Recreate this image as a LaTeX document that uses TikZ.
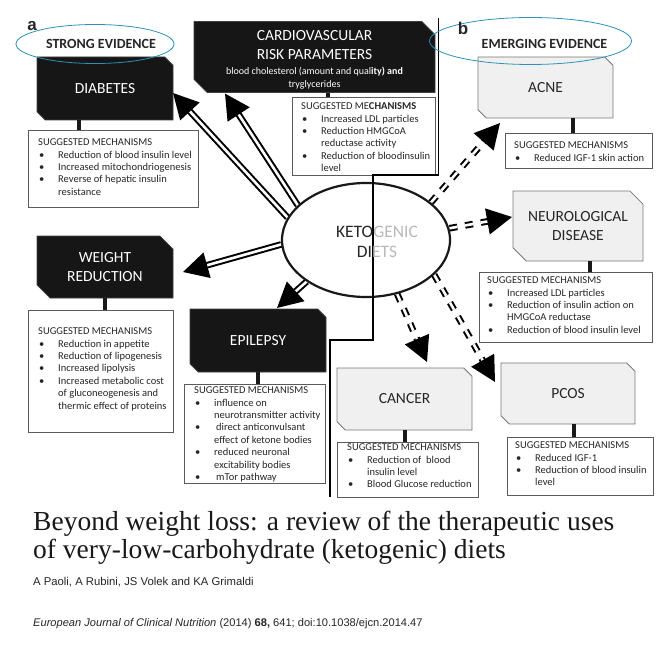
\documentclass[tikz,border=0pt]{standalone}
\usepackage{fontspec}
\setmainfont{Carlito}
\newfontfamily\serifttl{Liberation Serif}
\newfontfamily\arialf{Liberation Sans}
\usetikzlibrary{shapes.misc,shapes.geometric,arrows.meta,calc}
\pgfdeclarelayer{bglayer}
\pgfdeclarelayer{arrowlayer}
\pgfsetlayers{bglayer,arrowlayer,main}
\definecolor{evblue}{RGB}{45,145,185}
\definecolor{darkbox}{RGB}{22,22,22}
\definecolor{lightbox}{RGB}{240,240,240}
\definecolor{lightedge}{RGB}{120,120,120}
\definecolor{mechedge}{RGB}{90,90,90}
\definecolor{ketogray}{RGB}{185,185,185}
\newcommand\bl{\makebox[20pt][l]{\hspace{1pt}\textbullet}}
\newcommand\ct{\hspace*{20pt}}
\newcommand\mhead{SUGGESTED MECHANISMS}
\begin{document}
\begin{tikzpicture}[x=1pt,y=-1pt,
  hfont/.style={font=\fontsize{15.5}{18.5}\selectfont},
  strongbox/.style={chamfered rectangle, chamfered rectangle corners={north east,south west}, chamfered rectangle xsep=10pt, fill=darkbox, draw=black!75, line width=0.8pt, text=white, hfont, align=center, inner sep=0pt, outer sep=0pt},
  emergbox/.style={strongbox, fill=lightbox, draw=lightedge, text=black!85},
  mechbox/.style={rectangle, draw=mechedge, fill=white, line width=0.8pt, inner sep=0pt, outer sep=0pt, anchor=north west},
  mechtext/.style={inner sep=0pt, anchor=north west, align=left, font=\fontsize{10.5}{12.4}\selectfont, text=black!85},
  stem/.style={draw=black!90, line width=4pt},
  strongarrow/.style={draw=black, line width=2pt, double=white, double distance=2.6pt, -{Triangle[length=25pt,width=26pt]}},
  emergarrow/.style={strongarrow, dash pattern=on 8pt off 8pt},
  evellipse/.style={ellipse, draw=evblue, line width=0.8pt, inner sep=0pt},
  evtext/.style={font=\bfseries\fontsize{14}{16}\selectfont, text=black!85, inner sep=0pt},
  panel/.style={font=\arialf\bfseries\fontsize{17}{17}\selectfont, inner sep=0pt, text=black!85},
  divider/.style={draw=black, line width=1.5pt}
]
\begin{pgfonlayer}{bglayer}
\fill[white] (0,0) rectangle (671,652);
\end{pgfonlayer}
\useasboundingbox (0,0) rectangle (671,652);

% strong evidence boxes
\node[strongbox, minimum width=136pt, minimum height=63pt] (diab) at (105,88.5) {DIABETES};
\node[strongbox, minimum width=241pt, minimum height=70pt] (cardio) at (314.5,57)
  {\rule{0pt}{16pt}CARDIOVASCULAR\\RISK PARAMETERS\\[-3.5pt]{\fontsize{10}{12}\selectfont blood cholesterol (amount and qual\textbf{ity) and}}\\[-5pt]{\fontsize{10}{12}\selectfont tryglycerides}};
\node[strongbox, minimum width=136pt, minimum height=62pt] (weight) at (105,267) {WEIGHT\\REDUCTION};
\node[strongbox, minimum width=136pt, minimum height=63pt] (epi) at (258,340.5) {EPILEPSY};

% emerging evidence boxes
\node[emergbox, minimum width=135pt, minimum height=61pt] (acne) at (545.5,87.5) {ACNE};
\node[emergbox, minimum width=130pt, minimum height=70pt] (neuro) at (578,226) {NEUROLOGICAL\\DISEASE};
\node[emergbox, minimum width=135pt, minimum height=62pt] (cancer) at (404.5,399) {CANCER};
\node[emergbox, minimum width=134pt, minimum height=61pt] (pcos) at (568,393.5) {PCOS};

% mechanism boxes
\node[mechbox, minimum width=170pt, minimum height=77pt] (diabm) at (28,130) {};
\node[mechtext] (diabt) at ($(diabm.north west)+(10,8.6)$) {\mhead\\
  \bl Reduction of blood insulin level\\
  \bl Increased mitochondriogenesis\\
  \bl Reverse of hepatic insulin\\
  \ct resistance};
\node[mechbox, minimum width=143pt, minimum height=78pt] (cardiom) at (292,97) {};
\node[mechtext] (cardiot) at ($(cardiom.north west)+(9,5.6)$) {SUGGESTED ME\textbf{CHANISMS}\\
  \bl Increased LDL particles\\
  \bl Reduction HMGCoA\\
  \ct reductase activity\\
  \bl Reduction of bloodinsulin\\
  \ct level};
\node[mechbox, minimum width=145pt, minimum height=122pt] (weightm) at (28,310) {};
\node[mechtext] (weightt) at ($(weightm.north west)+(10,17.6)$) {\mhead\\
  \bl Reduction in appetite\\
  \bl Reduction of lipogenesis\\
  \bl Increased lipolysis\\
  \bl Increased metabolic cost\\
  \ct of gluconeogenesis and\\
  \ct thermic effect of proteins};
\node[mechbox, minimum width=141pt, minimum height=99pt] (epim) at (184,384) {};
\node[mechtext] (epit) at ($(epim.north west)+(10,2.6)$) {\mhead\\
  \bl influence on\\
  \ct neurotransmitter activity\\
  \bl\hspace{2pt}direct anticonvulsant\\
  \ct effect of ketone bodies\\
  \bl reduced neuronal\\
  \ct excitability bodies\\
  \bl\hspace{2pt}mTor pathway};
\node[mechbox, minimum width=147pt, minimum height=35pt] (acnem) at (505,133) {};
\node[mechtext] (acnet) at ($(acnem.north west)+(9,8.6)$) {\mhead\\
  \bl Reduced IGF-1 skin action};
\node[mechbox, minimum width=173pt, minimum height=70pt] (neurom) at (479,272) {};
\node[mechtext] (neurot) at ($(neurom.north west)+(8,4.6)$) {\mhead\\
  \bl Increased LDL particles\\
  \bl Reduction of insulin action on\\
  \ct HMGCoA reductase\\
  \bl Reduction of blood insulin level};
\node[mechbox, minimum width=141pt, minimum height=55pt] (cancerm) at (337,442) {};
\node[mechtext] (cancert) at ($(cancerm.north west)+(10,1.6)$) {\mhead\\
  \bl Reduction of \ blood\\
  \ct insulin level\\
  \bl Blood Glucose reduction};
\node[mechbox, minimum width=146pt, minimum height=58pt] (pcosm) at (507,437) {};
\node[mechtext] (pcost) at ($(pcosm.north west)+(8,4.6)$) {\mhead\\
  \bl Reduced IGF-1\\
  \bl Reduction of blood insulin\\
  \ct level};

% stems
\coordinate (s1) at ($(diab.south)+(-26,0)$);
\draw[stem] (s1) -- (s1 |- diabm.north);
\coordinate (s2) at ($(cardio.south)+(13.5,0)$);
\draw[stem] (s2) -- (s2 |- cardiom.north);
\draw[stem] (weight.south) -- (weight.south |- weightm.north);
\draw[stem] (epi.south) -- (epi.south |- epim.north);
\coordinate (s5) at ($(acne.south)+(27.5,0)$);
\draw[stem] (s5) -- (s5 |- acnem.north);
\coordinate (s6) at ($(neuro.south)+(12,0)$);
\draw[stem] (s6) -- (s6 |- neurom.north);
\draw[stem] (cancer.south) -- (cancer.south |- cancerm.north);
\coordinate (s8) at ($(pcos.south)+(6,0)$);
\draw[stem] (s8) -- (s8 |- pcosm.north);

% central ellipse
\node[ellipse, draw=black!90, line width=2.2pt, fill=white, minimum width=168pt, minimum height=114pt, inner sep=0pt] (keto) at (366,240) {};
\draw[divider] (438.5,18) -- (438.5,175) -- (373,175) -- (373,340) -- (330,340) -- (330,497);
\node[font=\fontsize{17.5}{20}\selectfont, align=center, inner sep=0pt, text=black!85] (ketotxt) at (377,242)
  {KETO\textcolor{ketogray}{GENIC}\\DI\textcolor{ketogray}{ETS}};

% evidence headers
\node[evellipse, minimum width=158pt, minimum height=39pt] (strongell) at (95,44) {};
\node[evtext] (strongtxt) at (101,44) {STRONG EVIDENCE};
\node[panel] (pa) at (32,26) {a};
\node[evellipse, minimum width=202pt, minimum height=47pt] (emergell) at (530.5,41) {};
\node[evtext] (emergtxt) at (544.5,43.5) {EMERGING EVIDENCE};
\node[panel] (pb) at (463,28) {b};

% arrows
\begin{pgfonlayer}{arrowlayer}
\draw[strongarrow] (keto.164) -- ($(diab.east)+(0,4.5)$);
\draw[strongarrow] (keto.153) -- ($(cardio.south)+(-89.5,1)$);
\draw[strongarrow] (keto.183) -- ($(weight.east)+(10,5)$);
\draw[strongarrow] (keto.215) -- ($(epi.north)+(19,-1)$);
\draw[emergarrow] (keto.30) -- ($(acne.south)+(-45.5,5)$);
\draw[emergarrow] (keto.8) -- ($(neuro.west)+(-1,-9)$);
\draw[emergarrow] (keto.300) -- ($(cancer.north)+(22.5,-6)$);
\draw[emergarrow] (keto.333) -- ($(pcos.west)+(-6,-11.5)$);
\end{pgfonlayer}

% citation
\node[anchor=base west, inner sep=0pt, font=\serifttl\fontsize{27.5}{29}\selectfont, text=black!90] (title1) at (33,530) {Beyond weight loss: a review of the therapeutic uses};
\node[anchor=base west, inner sep=0pt, font=\serifttl\fontsize{27.5}{29}\selectfont, text=black!90] (title2) at (33,558) {of very-low-carbohydrate (ketogenic) diets};
\node[anchor=base west, inner sep=0pt, font=\arialf\fontsize{11.3}{13}\selectfont, text=black!85] (authors) at (33,585) {A Paoli, A Rubini, JS Volek and KA Grimaldi};
\node[anchor=base west, inner sep=0pt, font=\arialf\fontsize{11.1}{13}\selectfont, text=black!85] (journal) at (33,626) {\textit{European Journal of Clinical Nutrition} (2014) \textbf{68,} 641; doi:10.1038/ejcn.2014.47};
\end{tikzpicture}
\end{document}
